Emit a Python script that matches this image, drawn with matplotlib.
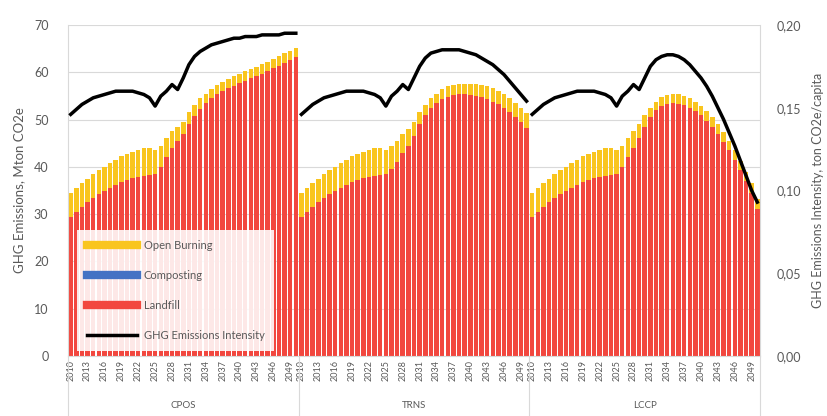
import numpy as np
import matplotlib
matplotlib.use('Agg')
import matplotlib.pyplot as plt
from matplotlib.lines import Line2D
from matplotlib.ticker import FuncFormatter

plt.rcParams['font.family'] = ['Lato', 'DejaVu Sans']

years = list(range(2010, 2051))
scenarios = ['CPOS', 'TRNS', 'LCCP']

# landfill, Mton CO2e
landfill = {
    'CPOS': [29.5, 30.5, 31.5, 32.5, 33.5, 34.3, 35.0, 35.6, 36.2, 36.8,
             37.3, 37.6, 37.9, 38.1, 38.2, 38.5, 40.0, 42.0, 44.0, 45.5,
             47.0, 49.0, 50.8, 52.3, 53.5, 54.5, 55.3, 56.0, 56.6, 57.2,
             57.7, 58.2, 58.7, 59.2, 59.7, 60.2, 60.8, 61.4, 62.0, 62.6, 63.2],
    'TRNS': [29.5, 30.5, 31.5, 32.5, 33.5, 34.3, 35.0, 35.6, 36.2, 36.8,
             37.3, 37.6, 37.9, 38.1, 38.2, 38.5, 39.5, 41.0, 43.0, 44.5,
             46.5, 49.0, 51.0, 52.5, 53.5, 54.3, 54.8, 55.1, 55.3, 55.3,
             55.2, 55.0, 54.7, 54.3, 53.8, 53.2, 52.4, 51.5, 50.5, 49.4, 48.3],
    'LCCP': [29.5, 30.5, 31.5, 32.5, 33.5, 34.3, 35.0, 35.6, 36.2, 36.8,
             37.3, 37.6, 37.9, 38.1, 38.2, 38.5, 40.0, 42.0, 44.0, 46.0,
             48.5, 50.5, 52.0, 52.9, 53.3, 53.4, 53.3, 53.0, 52.5, 51.8,
             50.9, 49.8, 48.5, 47.0, 45.3, 43.5, 41.5, 39.3, 37.0, 34.5, 31.0],
}

# composting is too small to see in the chart
composting = {
    'CPOS': [0.0] * 41,
    'TRNS': [0.0] * 41,
    'LCCP': [0.0] * 41,
}

open_burning = {
    'CPOS': [5.0, 5.0, 5.0, 5.0, 5.0, 5.0, 5.0, 5.2, 5.3, 5.4,
             5.5, 5.6, 5.7, 5.8, 5.8, 5.0, 4.5, 4.0, 3.5, 3.0,
             2.5, 2.5, 2.2, 2.2, 2.0, 2.0, 2.0, 2.0, 2.0, 2.0,
             2.0, 2.0, 2.0, 2.0, 2.0, 2.0, 2.0, 2.0, 2.0, 2.0, 2.0],
    'TRNS': [5.0, 5.0, 5.0, 5.0, 5.0, 5.0, 5.0, 5.2, 5.3, 5.4,
             5.5, 5.6, 5.7, 5.8, 5.8, 5.0, 5.0, 4.5, 4.0, 3.5,
             3.0, 2.5, 2.0, 2.0, 2.0, 2.2, 2.2, 2.2, 2.2, 2.3,
             2.4, 2.5, 2.6, 2.7, 2.8, 2.8, 2.9, 3.0, 3.0, 3.1, 3.0],
    'LCCP': [5.0, 5.0, 5.0, 5.0, 5.0, 5.0, 5.0, 5.2, 5.3, 5.4,
             5.5, 5.6, 5.7, 5.8, 5.8, 5.0, 4.5, 4.0, 3.5, 3.0,
             2.5, 2.0, 1.8, 1.8, 1.9, 2.0, 2.0, 2.0, 2.0, 2.0,
             2.0, 2.0, 2.0, 2.0, 2.0, 2.0, 2.0, 2.0, 2.0, 2.0, 2.3],
}

# ton CO2e/capita
intensity = {
    'CPOS': [0.146, 0.149, 0.152, 0.154, 0.156, 0.157, 0.158, 0.159, 0.160, 0.160,
             0.160, 0.160, 0.159, 0.158, 0.156, 0.151, 0.157, 0.160, 0.164, 0.161,
             0.168, 0.176, 0.181, 0.184, 0.186, 0.188, 0.189, 0.190, 0.191, 0.192,
             0.192, 0.193, 0.193, 0.193, 0.194, 0.194, 0.194, 0.194, 0.195, 0.195, 0.195],
    'TRNS': [0.146, 0.149, 0.152, 0.154, 0.156, 0.157, 0.158, 0.159, 0.160, 0.160,
             0.160, 0.160, 0.159, 0.158, 0.156, 0.151, 0.157, 0.160, 0.164, 0.161,
             0.168, 0.175, 0.180, 0.183, 0.184, 0.185, 0.185, 0.185, 0.185, 0.184,
             0.183, 0.182, 0.180, 0.178, 0.176, 0.173, 0.170, 0.166, 0.162, 0.158, 0.154],
    'LCCP': [0.146, 0.149, 0.152, 0.154, 0.156, 0.157, 0.158, 0.159, 0.160, 0.160,
             0.160, 0.160, 0.159, 0.158, 0.156, 0.151, 0.157, 0.160, 0.164, 0.161,
             0.168, 0.175, 0.179, 0.181, 0.182, 0.182, 0.181, 0.179, 0.176, 0.172,
             0.168, 0.163, 0.157, 0.150, 0.143, 0.135, 0.127, 0.118, 0.109, 0.100, 0.093],
}

c_ob = '#F9C51E'
c_comp = '#4472C4'
c_lf = '#F2473F'
grey = '#595959'

fig = plt.figure(figsize=(8.28, 4.16), dpi=100)
ax = fig.add_axes([0.082, 0.144, 0.836, 0.796])
ax2 = ax.twinx()

n = len(years)
for g, sc in enumerate(scenarios):
    x = np.arange(n) + g * n
    lf = np.array(landfill[sc])
    cp = np.array(composting[sc])
    ob = np.array(open_burning[sc])
    ax.bar(x, lf, width=0.8, color=c_lf, zorder=2)
    ax.bar(x, cp, width=0.8, bottom=lf, color=c_comp, zorder=2)
    ax.bar(x, ob, width=0.8, bottom=lf + cp, color=c_ob, zorder=2)
    ax2.plot(x, intensity[sc], color='black', lw=2.5, zorder=3)

ax.set_xlim(-0.5, 3 * n - 0.5)
ax.set_ylim(0, 70)
ax.set_yticks(range(0, 71, 10))
ax2.set_ylim(0, 0.2)
ax2.set_yticks([0, 0.05, 0.1, 0.15, 0.2])
ax2.yaxis.set_major_formatter(FuncFormatter(lambda v, p: f'{v:.2f}'.replace('.', ',')))

ax.grid(axis='y', color='#D9D9D9', lw=0.8, zorder=0)
ax.set_axisbelow(True)

tick_pos = []
tick_lab = []
for g in range(3):
    for i in range(0, n, 3):
        tick_pos.append(g * n + i)
        tick_lab.append(str(years[i]))
ax.set_xticks(tick_pos)
ax.set_xticklabels(tick_lab, rotation=90, fontsize=6.5, color=grey)
ax.tick_params(axis='x', length=0, pad=3)
ax.tick_params(axis='y', length=0, labelsize=9, labelcolor=grey, pad=14)
ax2.tick_params(axis='y', length=0, labelsize=9, labelcolor=grey, pad=12)

for a in (ax, ax2):
    for s in a.spines.values():
        s.set_visible(False)
ax.spines['bottom'].set_visible(True)
ax.spines['bottom'].set_color('#D9D9D9')

# multi-level category axis dividers
trans = ax.get_xaxis_transform()
for b in [-0.5, n - 0.5, 2 * n - 0.5, 3 * n - 0.5]:
    ax.plot([b, b], [0, -0.19], transform=trans, color='#D9D9D9', lw=0.8, clip_on=False)
ax.plot([3 * n - 0.5, 3 * n - 0.5], [0, 1], transform=trans, color='#D9D9D9', lw=0.8, clip_on=False)
ax.plot([-0.5, -0.5], [0, 1], transform=trans, color='#D9D9D9', lw=0.8, clip_on=False)
for g, sc in enumerate(scenarios):
    ax.text(g * n + (n - 1) / 2, -0.15, sc, transform=trans, ha='center', va='center',
            fontsize=7, color=grey)

ax.set_ylabel('GHG Emissions, Mton CO2e', fontsize=9.5, color=grey, labelpad=6)
ax2.set_ylabel('GHG Emissions Intensity, ton CO2e/capita', fontsize=9, color=grey, labelpad=8)

handles = [
    Line2D([], [], color=c_ob, lw=6),
    Line2D([], [], color=c_comp, lw=6),
    Line2D([], [], color=c_lf, lw=6),
    Line2D([], [], color='black', lw=2.5),
]
labels = ['Open Burning', 'Composting', 'Landfill', 'GHG Emissions Intensity']
leg = ax2.legend(handles, labels, loc='lower left', bbox_to_anchor=(0.005, 0.0),
                 fontsize=8, frameon=True, framealpha=0.88, facecolor='white',
                 edgecolor='none', fancybox=False, handlelength=4.5,
                 labelspacing=1.7, borderpad=0.9, handletextpad=0.6)
for t in leg.get_texts():
    t.set_color(grey)

fig.savefig('out.png', dpi=100)
